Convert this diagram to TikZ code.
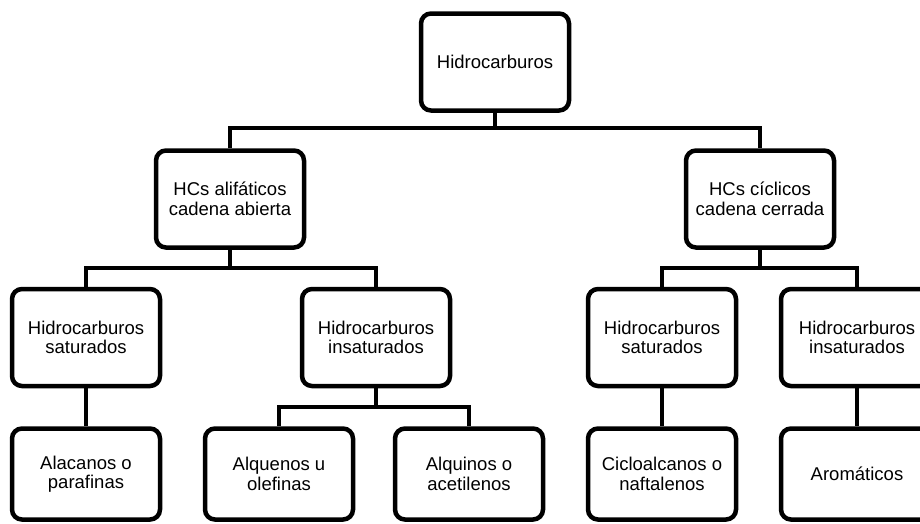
\documentclass[tikz,border=0pt]{standalone}
\usepackage{fontspec}
\setmainfont{Liberation Sans}
\begin{document}
\begin{tikzpicture}[x=1pt,y=-1pt,
  box/.style={draw, line width=4.5pt, rounded corners=10pt, minimum width=148pt,
    minimum height=97pt, align=center, inner sep=0pt,
    font=\fontsize{18.5}{19.5}\selectfont},
  lowbox/.style={box, minimum height=91pt},
  conn/.style={line width=4.5pt}]
\useasboundingbox (0,0) rectangle (920,523);
\clip (0,0) rectangle (920,523);
\node[box] (top) at (495,62) {Hidrocarburos};
\node[box] (ali) at (230,199) {HCs alifáticos\\cadena abierta};
\node[box] (cic) at (760,199) {HCs cíclicos\\cadena cerrada};
\node[box] (sat1) at (86,337.5) {Hidrocarburos\\saturados};
\node[box] (ins1) at (376,337.5) {Hidrocarburos\\insaturados};
\node[box] (sat2) at (662,337.5) {Hidrocarburos\\saturados};
\node[box, minimum width=152pt] (ins2) at (857,337.5) {Hidrocarburos\\insaturados};
\node[lowbox] (alc) at (86,474) {Alacanos o\\parafinas};
\node[lowbox] (alq) at (279,474) {Alquenos u\\olefinas};
\node[lowbox] (alk) at (469,474) {Alquinos o\\acetilenos};
\node[lowbox] (cyc) at (662,474) {Cicloalcanos o\\naftalenos};
\node[lowbox, minimum width=152pt] (aro) at (857,474) {Aromáticos};
% level 1
\draw[conn] (top.south) -- (top.south |- 0,128);
\draw[conn] (ali.north) |- (cic.north |- 0,128) -- (cic.north);
% level 2 left
\draw[conn] (ali.south) -- (ali.south |- 0,268);
\draw[conn] (sat1.north) |- (ins1.north |- 0,268) -- (ins1.north);
% level 2 right
\draw[conn] (cic.south) -- (cic.south |- 0,268);
\draw[conn] (sat2.north) |- (ins2.north |- 0,268) -- (ins2.north);
% level 3
\draw[conn] (sat1.south) -- (alc.north);
\draw[conn] (ins1.south) -- (ins1.south |- 0,407);
\draw[conn] (alq.north) |- (alk.north |- 0,407) -- (alk.north);
\draw[conn] (sat2.south) -- (cyc.north);
\draw[conn] (ins2.south) -- (aro.north);
\end{tikzpicture}
\end{document}
